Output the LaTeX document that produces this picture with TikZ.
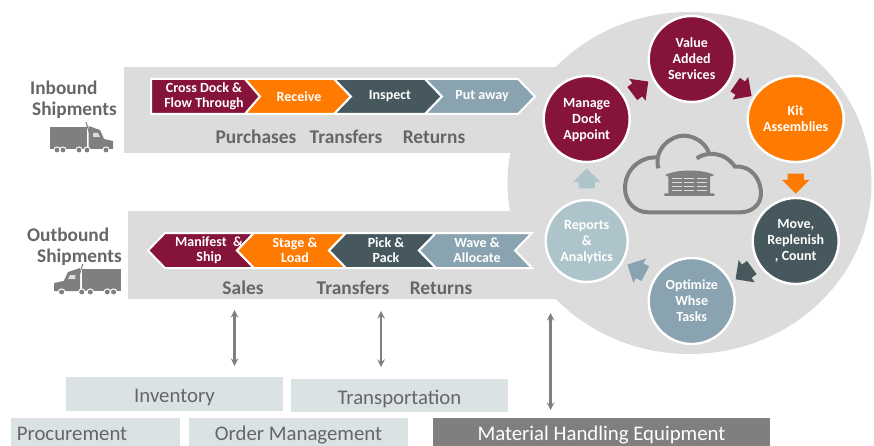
\documentclass[tikz,border=0pt]{standalone}
\usepackage{fontspec}
\setmainfont{Carlito}
\usetikzlibrary{shapes.geometric,shapes.arrows}
\definecolor{wine}{HTML}{85133A}
\definecolor{tangerine}{HTML}{FF7A00}
\definecolor{slate}{HTML}{46585E}
\definecolor{steel}{HTML}{8AA3B0}
\definecolor{mist}{HTML}{AEC4CB}
\definecolor{band}{HTML}{DCDCDC}
\definecolor{pale}{HTML}{DAE2E4}
\definecolor{ink}{HTML}{666666}
\definecolor{metal}{HTML}{7F7F7F}
\tikzset{
  chev/.style={draw=white,line width=2pt},
  chevtext/.style={text=white,font=\fontsize{14}{15}\selectfont\bfseries,align=center,inner sep=0pt},
  sublabel/.style={text=ink,font=\fontsize{19.4}{21}\selectfont\bfseries,inner sep=0pt},
  sidelabel/.style={text=ink,font=\fontsize{19.3}{21}\selectfont\bfseries,align=left,inner sep=0pt,anchor=west},
  step circle/.style={ellipse,draw=white,line width=2.4pt,text=white,font=\fontsize{14}{16}\selectfont\bfseries,align=center,inner sep=0pt,minimum width=86pt,minimum height=86pt},
  flow/.style={single arrow,minimum height=20pt,minimum width=27pt,single arrow head extend=5.5pt,inner xsep=0pt,inner ysep=8pt},
  module/.style={fill=pale,text=ink,font=\fontsize{20.8}{22}\selectfont,inner sep=0pt,text height=17pt,text depth=0pt},
  link/.style={<->,>=stealth,draw=metal,line width=2.3pt},
  truck/.pic={
    \fill [metal] (0,0) rectangle (37,22);
    \fill [metal] (38.5,-1) -- (50,3) -- (54,12) -- (63,14) -- (63,22) -- (38.5,22) -- cycle;
    \draw [metal,line width=1pt] (36,-5) -- (40,8);
    \fill [band] (43,6) -- (48,6) -- (50,10) -- (43,10) -- cycle;
    \foreach \wx in {7,13,29,37,56} {
      \fill [white] (\wx,23) circle (3.6);
      \fill [metal] (\wx,23) circle (2.4);
    }
  }
}
\begin{document}
\begin{tikzpicture}[x=1pt,y=-1pt]
\useasboundingbox (0,0) rectangle (874,446);

% grey bands and the big disc
\fill [band] (124,67) rectangle (560,153);
\fill [band] (128,211) rectangle (560,299);
\fill [band] (689.5,183) ellipse (182 and 171);

% inbound chevrons
\draw [chev,fill=wine] (151,79) -- (245,79) -- (260,96.5) -- (245,114) -- (151,114) -- cycle;
\draw [chev,fill=tangerine] (245,79) -- (334,79) -- (351,96.5) -- (334,114) -- (245,114) -- (260,96.5) -- cycle;
\draw [chev,fill=slate] (334,79) -- (425,79) -- (442,96.5) -- (425,114) -- (334,114) -- (351,96.5) -- cycle;
\draw [chev,fill=steel] (425,79) -- (518,79) -- (535,96.5) -- (518,114) -- (425,114) -- (442,96.5) -- cycle;
\node [chevtext] (crossdock) at (204,96) {Cross Dock \&\\Flow Through};
\node [chevtext] (receive) at (299,96.5) {Receive};
\node [chevtext] (inspect) at (390,96.5) {Inspect};
\node [chevtext] (putaway) at (482,96.5) {Put away};

% outbound chevrons
\draw [chev,fill=wine] (148,250.5) -- (165,233) -- (254,233) -- (237,250.5) -- (254,268) -- (165,268) -- cycle;
\draw [chev,fill=tangerine] (237,250.5) -- (254,233) -- (346,233) -- (329,250.5) -- (346,268) -- (254,268) -- cycle;
\draw [chev,fill=slate] (329,250.5) -- (346,233) -- (436,233) -- (419,250.5) -- (436,268) -- (346,268) -- cycle;
\draw [chev,fill=steel] (419,250.5) -- (436,233) -- (532,233) -- (515,250.5) -- (532,268) -- (436,268) -- cycle;
\node [chevtext] (manifest) at (209,250.5) {Manifest~~\&\\Ship};
\node [chevtext] (stage) at (295,250.5) {Stage \&\\Load};
\node [chevtext] (pick) at (386,250.5) {Pick \&\\Pack};
\node [chevtext] (wave) at (477,250.5) {Wave \&\\Allocate};

% side labels and trucks
\node [sidelabel] (inbound) at (30,99.5) {Inbound\\\hspace*{2pt}Shipments};
\node [sidelabel] (outbound) at (27,247) {Outbound\\\hspace*{10pt}Shipments};
\pic at (50,127) {truck};
\pic [xscale=-1.06] at (121,269) {truck};

\node [sublabel] (purchases) at (256,137) {Purchases};
\node [sublabel] (intransfers) at (346,137) {Transfers};
\node [sublabel] (inreturns) at (434,137) {Returns};
\node [sublabel] (sales) at (243,288) {Sales};
\node [sublabel] (outtransfers) at (353,288) {Transfers};
\node [sublabel] (outreturns) at (441,288) {Returns};

% the cycle
\node [step circle,fill=wine,text depth=0pt] (dock) at (586.7,119) {Manage\\Dock\\Appoint};
\node [step circle,fill=wine] (value) at (691.7,59) {Value\\Added\\Services};
\node [step circle,fill=tangerine,minimum width=96pt] (kit) at (795.7,119) {Kit\\Assemblies};
\node [step circle,fill=slate] (move) at (795.7,241) {Move,\\Replenish\\, Count};
\node [step circle,fill=steel] (optimize) at (691.7,301) {Optimize\\Whse\\Tasks};
\node [step circle,fill=mist,minimum width=82pt,minimum height=82pt,text depth=0pt] (reports) at (586.7,241) {Reports\\\&\\Analytics};

\node [flow,fill=wine,rotate=37] (dock2value) at (637,90) {};
\node [flow,fill=wine,rotate=-35] (value2kit) at (740,88) {};
\node [flow,fill=tangerine,rotate=-90] (kit2move) at (795.7,179.5) {};
\node [flow,fill=slate,rotate=216] (move2opt) at (747,271) {};
\node [flow,fill=steel,rotate=153] (opt2rep) at (640,271) {};
\node [flow,fill=mist,rotate=90] (rep2dock) at (586.7,182.5) {};

% cloud with warehouse
\begin{scope}[shift={(615,125)},x=0.3333pt,y=-0.3333pt]
\draw [metal,line width=4pt] (130,130) .. controls (115,70) and (170,32) .. (205,32) .. controls (245,32) and (275,60) .. (282,85);
\draw [metal,line width=4pt] (245,100) .. controls (270,82) and (325,75) .. (360,125) .. controls (410,120) and (438,165) .. (438,205) .. controls (438,240) and (410,262) .. (375,262) -- (100,262) .. controls (60,262) and (30,230) .. (30,190) .. controls (30,130) and (80,95) .. (125,97);
\fill [metal] (150,150) .. controls (190,132) and (260,132) .. (298,150) -- (285,155) -- (285,205) -- (298,205) -- (298,213) -- (148,213) -- (148,205) -- (160,205) -- (160,155) -- cycle;
\foreach \sx in {170,208,246} {
  \foreach \sy in {158,170,182,194} {
    \fill [band] (\sx,\sy) rectangle ++(30,5);
  }
}
\end{scope}

% modules
\node [module,minimum width=217pt,minimum height=34pt] (inventory) at (174.5,394) {Inventory};
\node [module,minimum width=217pt,minimum height=33pt] (transport) at (399.5,395.5) {Transportation};
\node [module,minimum width=169pt,minimum height=28pt] (procure) at (95.5,432) {\hspace*{-47pt}Procurement};
\node [module,minimum width=219pt,minimum height=28pt] (order) at (298.5,432) {Order Management};
\node [module,fill=metal,text=white,minimum width=337pt,minimum height=28pt] (material) at (601.5,432) {Material Handling Equipment};

% links
\coordinate (invtop) at (234.5,310);
\coordinate (invbot) at (234.5,366);
\coordinate (transtop) at (381,311);
\coordinate (transbot) at (381,367);
\coordinate (mattop) at (550.5,313);
\coordinate (matbot) at (550.5,410);
\draw [link] (invtop) -- (invbot);
\draw [link] (transtop) -- (transbot);
\draw [link] (mattop) -- (matbot);
\end{tikzpicture}
\end{document}
